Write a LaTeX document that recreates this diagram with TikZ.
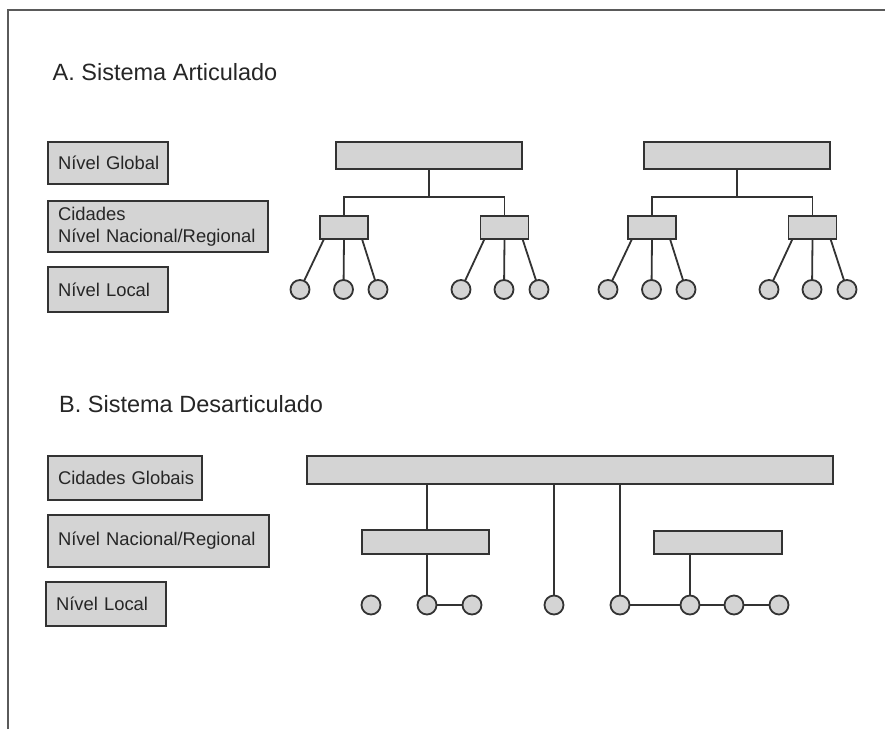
\documentclass[tikz,border=0pt]{standalone}
\usepackage{fontspec}
\setmainfont{Liberation Sans}
\definecolor{boxfill}{HTML}{D4D4D4}
\definecolor{ink}{HTML}{333333}
\definecolor{framec}{HTML}{5A5A5A}
\definecolor{txt}{HTML}{262626}
\begin{document}
\begin{tikzpicture}[x=1pt,y=-1pt,
  box/.style={draw=ink, line width=1.8pt, fill=boxfill, inner sep=0pt, outer sep=0pt},
  lbl/.style={box, anchor=north west, inner xsep=10pt, inner ysep=0pt, align=left,
    font=\fontsize{18.4}{21.5}\selectfont, text=txt},
  dot/.style={circle, draw=ink, line width=1.8pt, fill=boxfill, minimum size=19pt, inner sep=0pt, outer sep=0pt},
  link/.style={draw=ink, line width=1.8pt},
  title/.style={anchor=base west, inner sep=0pt, font=\fontsize{23.5}{27}\selectfont, text=txt}]
\useasboundingbox (0,0) rectangle (885,729);
\fill[white] (0,0) rectangle (885,729);
\draw[framec, line width=2.5pt] (8,729) -- (8,10) -- (885,10);

% ---------- A ----------
\node[title] (ta) at (52.5,80.7) {A. Sistema Articulado};
\node[lbl, text width=100pt, minimum height=42pt] (lg) at (48,142) {Nível~Global};
\node[lbl, text width=200pt, minimum height=51pt] (lr) at (48,201) {Cidades\\Nível~Nacional/Regional};
\node[lbl, text width=100pt, minimum height=45pt] (ll) at (48,267) {Nível~Local};

\foreach \i/\dx in {1/0,2/308}{
  \begin{scope}[xshift=\dx]
    \node[box, minimum width=186pt, minimum height=27pt] (G\i) at (429,155.5) {};
    \node[box, minimum width=48pt, minimum height=23pt] (L\i) at (344,227.5) {};
    \node[box, minimum width=48pt, minimum height=23pt] (R\i) at (504.5,227.5) {};
    \coordinate (J\i) at (429,197);
    \draw[link] (G\i.south) -- (J\i);
    \draw[link] (L\i.north) |- (J\i) -| (R\i.north);
    \node[dot] (La\i) at (300,289.5) {};
    \node[dot] (Lb\i) at (343.5,289.5) {};
    \node[dot] (Lc\i) at (378,289.5) {};
    \node[dot] (Ra\i) at (461,289.5) {};
    \node[dot] (Rb\i) at (504,289.5) {};
    \node[dot] (Rc\i) at (539,289.5) {};
    \draw[link] ([xshift=4pt]L\i.south west) -- (La\i);
    \draw[link] (L\i.south) -- (Lb\i);
    \draw[link] ([xshift=-6pt]L\i.south east) -- (Lc\i);
    \draw[link] ([xshift=4pt]R\i.south west) -- (Ra\i);
    \draw[link] (R\i.south) -- (Rb\i);
    \draw[link] ([xshift=-6pt]R\i.south east) -- (Rc\i);
  \end{scope}
}

% ---------- B ----------
\node[title] (tb) at (59,412.3) {B. Sistema Desarticulado};
\node[lbl, text width=134pt, minimum height=44pt] (bg) at (48,456) {Cidades~Globais};
\node[lbl, text width=201pt, minimum height=52pt] (bn) at (48,515) {Nível~Nacional/Regional};
\node[lbl, text width=100pt, minimum height=44pt] (bl) at (46,582) {Nível~Local};

\node[box, minimum width=526pt, minimum height=28pt] (BG) at (570,470) {};
\node[box, minimum width=127pt, minimum height=24pt] (BR1) at (425.5,542) {};
\node[box, minimum width=128pt, minimum height=23pt] (BR2) at (718,542.5) {};

\foreach \n/\x in {1/371,2/427,3/472,4/554,5/620,6/690,7/734,8/779}{
  \node[dot] (d\n) at (\x,605) {};
}
\draw[link] (BG.south -| d2) -- (BR1.north -| d2);
\draw[link] (BR1.south -| d2) -- (d2);
\draw[link] (d2) -- (d3);
\draw[link] (BG.south -| d4) -- (d4);
\draw[link] (BG.south -| d5) -- (d5);
\draw[link] (d5) -- (d6) -- (d7) -- (d8);
\draw[link] (BR2.south -| d6) -- (d6);
\end{tikzpicture}
\end{document}
